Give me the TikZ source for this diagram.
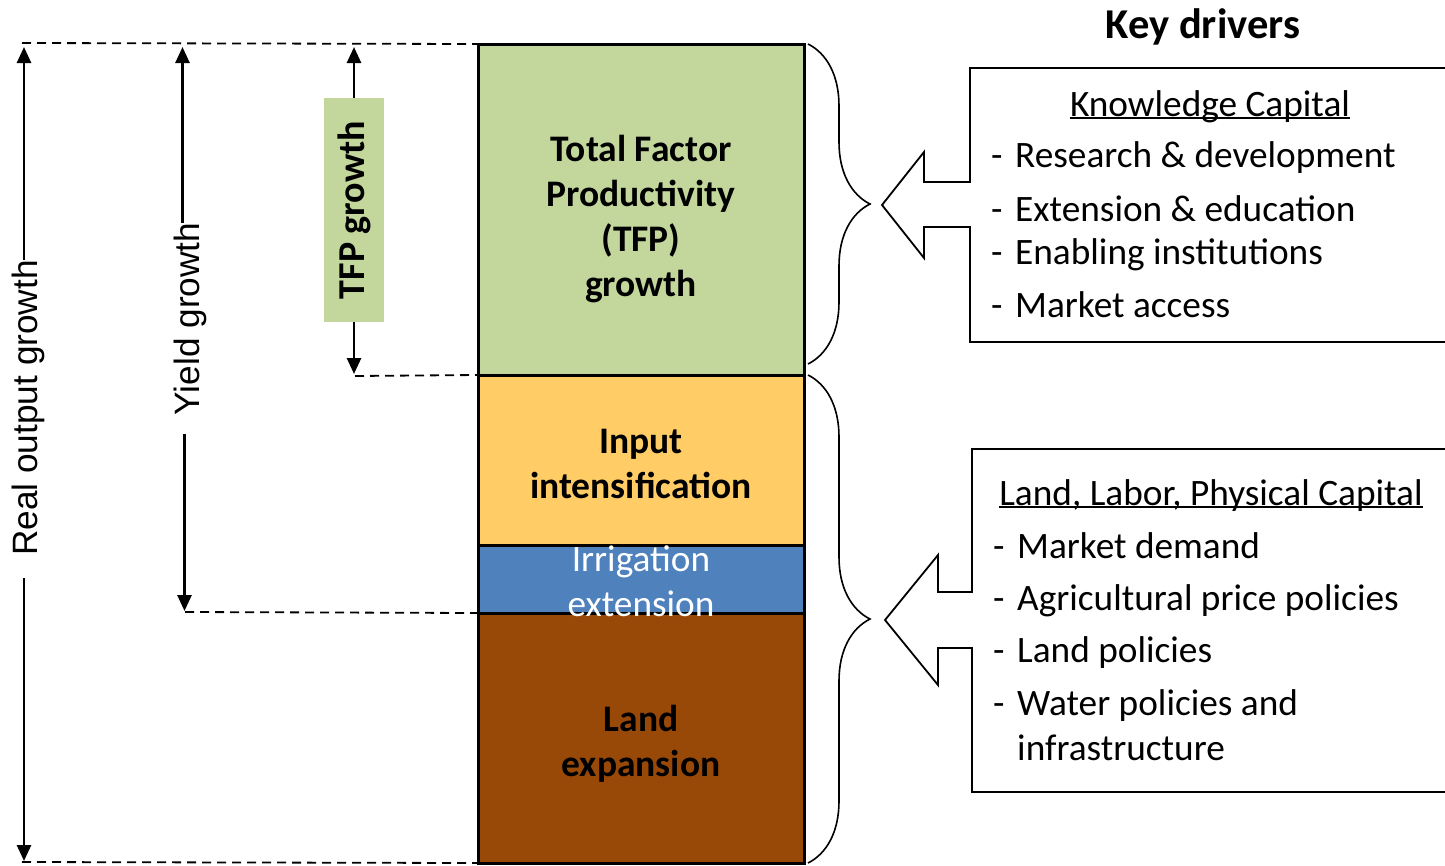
\documentclass[tikz,border=0pt]{standalone}
\usepackage{fontspec}
\setmainfont{Carlito}
\newfontfamily\arialfont{Liberation Sans}
\usetikzlibrary{arrows.meta,decorations.pathreplacing,positioning}
\definecolor{tfpgreen}{HTML}{C3D69B}
\definecolor{inputorange}{HTML}{FFCC66}
\definecolor{irrigblue}{HTML}{4F81BD}
\definecolor{landbrown}{HTML}{984807}
\newcommand\kdul[1]{\setbox0\hbox{#1}\rlap{\rule[-3pt]{\wd0}{1.6pt}}\box0}
\newcommand\kddash{\makebox[24pt][l]{-}}

\begin{document}
\begin{tikzpicture}[x=1pt, y=-1pt,
	seg/.style={draw, line width=3pt, outer sep=0pt, inner sep=0pt, minimum width=326pt, align=center, font=\fontsize{37.5}{45}\selectfont\bfseries},
	gr/.style={->, >={Triangle[length=16pt,width=14pt]}, line width=2.6pt},
	guide/.style={line width=1.8pt, dash pattern=on 9pt off 6pt},
	vlabel/.style={inner sep=0pt, font=\arialfont\fontsize{35.2}{40}\selectfont},
	kbrace/.style={decorate, decoration={brace, amplitude=62pt}, line width=1.6pt},
	outline/.style={line width=1.8pt, line join=miter},
	item/.style={anchor=base west, inner sep=0pt, align=left, font=\fontsize{37.3}{45}\selectfont}]
	\useasboundingbox (0,0) rectangle (1445,865);

	% stacked column
	\node[seg, fill=tfpgreen, minimum height=331pt] (tfp) at (641,209.5) {\rule{0pt}{46pt}Total Factor\\Productivity\\(TFP)\\growth};
	\node[seg, fill=inputorange, minimum height=170pt, below=0pt of tfp] (input) {\rule{0pt}{33pt}Input\\intensification};
	\node[seg, fill=irrigblue, minimum height=68pt, below=0pt of input] (irrig) {};
	\node[seg, fill=landbrown, minimum height=250pt, below=0pt of irrig] (land) {\rule{0pt}{37pt}Land\\expansion};
	\node[inner sep=0pt, align=center, text=white, font=\fontsize{37.3}{45}\selectfont, yshift=-2pt] (irriglabel) at (irrig.center) {Irrigation\\extension};

	% dashed guides
	\coordinate (dtop) at (22,43);
	\coordinate (dtfp) at (355,376);
	\coordinate (dyield) at (185,612);
	\coordinate (dbot) at (22,862);
	\draw[guide] (dtop) -- (tfp.north west);
	\draw[guide] (dtfp) -- (tfp.south west);
	\draw[guide] (dyield) -- (irrig.south west);
	\draw[guide] (dbot) -- (land.south west);

	% real output growth
	\coordinate (outtop) at (24,47);
	\coordinate (outbot) at (24,861);
	\node[vlabel, rotate=90] (realout) at (28,408) {Real output growth};
	\coordinate (outgap) at ([yshift=-22pt]realout.west);
	\draw[gr] (realout.east -| outtop) -- (outtop);
	\draw[gr] (outgap -| outbot) -- (outbot);

	% yield growth
	\coordinate (yieldtop) at (182.5,47);
	\coordinate (yieldbot) at (184.5,611);
	\node[vlabel, rotate=90] (yield) at (190,319) {Yield growth};
	\coordinate (yieldgap) at ([yshift=-19pt]yield.west);
	\draw[gr] (yield.east -| yieldtop) -- (yieldtop);
	\draw[gr] (yieldgap -| yieldbot) -- (yieldbot);

	% TFP growth
	\coordinate (tfptop) at (354,47);
	\coordinate (tfpbot) at (354,374);
	\node[fill=tfpgreen, rotate=90, minimum width=224pt, minimum height=60pt, inner sep=0pt, font=\fontsize{38}{45}\selectfont\bfseries] (tfpbox) at (354,210) {TFP growth};
	\draw[gr] (tfpbox.east) -- (tfptop);
	\draw[gr] (tfpbox.west) -- (tfpbot);

	% braces
	\draw[kbrace] ([xshift=4pt]tfp.north east) -- ([xshift=4pt, yshift=11pt]tfp.south east);
	\draw[kbrace] ([xshift=4pt]input.north east) -- ([xshift=4pt]land.south east);

	% key drivers
	\node[inner sep=0pt, anchor=base, font=\fontsize{42.5}{50}\selectfont\bfseries] (keydrv) at (1203,38) {Key drivers};

	\draw[outline] (1460,68) -- (970,68) -- (970,182) -- (924,182) -- (924,152) -- (882,205) -- (924,258) -- (924,227) -- (970,227) -- (970,342) -- (1460,342);
	\node[item, anchor=base] (kchead) at (1210,116) {\kdul{Knowledge Capital}};
	\node[item] (kc1) at (991,167) {\kddash Research \& development};
	\node[item] (kc2) at (991,221) {\kddash Extension \& education};
	\node[item] (kc3) at (991,264) {\kddash Enabling institutions};
	\node[item] (kc4) at (991,317) {\kddash Market access};

	\draw[outline] (1460,449) -- (972,449) -- (972,592) -- (938,592) -- (938,555) -- (885,620) -- (938,685) -- (938,648) -- (972,648) -- (972,792) -- (1460,792);
	\node[item, anchor=base] (llhead) at (1211,505) {\kdul{Land, Labor, Physical Capital}};
	\node[item] (ll1) at (993,558) {\kddash Market demand};
	\node[item] (ll2) at (993,610) {\kddash Agricultural price policies};
	\node[item] (ll3) at (993,662) {\kddash Land policies};
	\node[item] (ll4) at (993,760) {\kddash Water policies and\\\hspace*{24pt}infrastructure};
\end{tikzpicture}
\end{document}
